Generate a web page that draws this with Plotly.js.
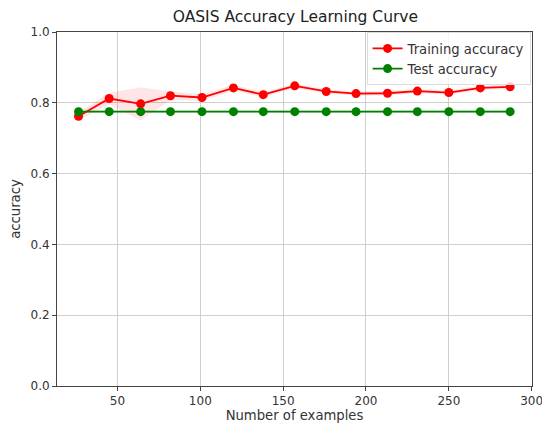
<!DOCTYPE html>
<html>
<head>
<meta charset="utf-8">
<script src="https://cdn.plot.ly/plotly-3.0.1.min.js"></script>
<style>html,body{margin:0;padding:0;background:#fff;}#chart{width:542px;height:430px;}</style>
</head>
<body>
<div id="chart"></div>
<script>
const trainSizes = [26.5, 45, 64, 82, 101, 120, 138, 157, 176, 194, 213, 231, 250, 269, 287];
const trainMean = [0.762, 0.812, 0.797, 0.820, 0.815, 0.842, 0.823, 0.848, 0.832, 0.826, 0.827, 0.833, 0.829, 0.842, 0.845];
const trainStd = [0.012, 0.016, 0.047, 0.012, 0.010, 0.008, 0.007, 0.007, 0.006, 0.006, 0.006, 0.006, 0.006, 0.006, 0.006];
const testMean = [0.775, 0.775, 0.775, 0.775, 0.775, 0.775, 0.775, 0.775, 0.775, 0.775, 0.775, 0.775, 0.775, 0.775, 0.775];
const testStd = [0.004, 0.004, 0.004, 0.004, 0.004, 0.004, 0.004, 0.004, 0.004, 0.004, 0.004, 0.004, 0.004, 0.004, 0.004];

const up = (m, s) => m.map((v, i) => v + s[i]);
const lo = (m, s) => m.map((v, i) => v - s[i]);

const traces = [
  {x: trainSizes, y: lo(trainMean, trainStd), mode: 'lines', line: {width: 0, color: 'rgba(0,0,0,0)'}, showlegend: false, hoverinfo: 'skip'},
  {x: trainSizes, y: up(trainMean, trainStd), mode: 'lines', fill: 'tonexty', fillcolor: 'rgba(255,0,0,0.1)', line: {width: 0, color: 'rgba(0,0,0,0)'}, showlegend: false, hoverinfo: 'skip'},
  {x: trainSizes, y: lo(testMean, testStd), mode: 'lines', line: {width: 0, color: 'rgba(0,0,0,0)'}, showlegend: false, hoverinfo: 'skip'},
  {x: trainSizes, y: up(testMean, testStd), mode: 'lines', fill: 'tonexty', fillcolor: 'rgba(0,128,0,0.1)', line: {width: 0, color: 'rgba(0,0,0,0)'}, showlegend: false, hoverinfo: 'skip'},
  {x: trainSizes, y: trainMean, mode: 'lines+markers', name: 'Training accuracy', line: {color: '#ff0000', width: 1.8}, marker: {color: '#ff0000', size: 9}},
  {x: trainSizes, y: testMean, mode: 'lines+markers', name: 'Test accuracy', line: {color: '#008000', width: 1.8}, marker: {color: '#008000', size: 9}}
];

const layout = {
  width: 542, height: 430,
  margin: {l: 57, r: 10, t: 32, b: 44},
  paper_bgcolor: '#fff', plot_bgcolor: '#fff',
  font: {family: 'DejaVu Sans', size: 12, color: '#333'},
  title: {text: 'OASIS Accuracy Learning Curve', font: {size: 15.5, color: '#222'}, x: 0.545, xanchor: 'center', y: 0.962, yanchor: 'middle'},
  xaxis: {
    range: [13.5, 300.2], tickvals: [50, 100, 150, 200, 250, 300],
    showgrid: true, gridcolor: '#cfcfcf', gridwidth: 1,
    showline: true, linecolor: '#444', linewidth: 1, mirror: true,
    ticks: 'outside', ticklen: 4, tickcolor: '#444', zeroline: false,
    ticklabeloverflow: 'allow',
    title: {text: 'Number of examples', font: {size: 13.2}, standoff: 3}
  },
  yaxis: {
    range: [0, 1], tickvals: [0, 0.2, 0.4, 0.6, 0.8, 1.0], ticktext: ['0.0', '0.2', '0.4', '0.6', '0.8', '1.0'],
    showgrid: true, gridcolor: '#cfcfcf', gridwidth: 1,
    showline: true, linecolor: '#444', linewidth: 1, mirror: true,
    ticks: 'outside', ticklen: 4, tickcolor: '#444', zeroline: false,
    title: {text: 'accuracy', font: {size: 13.2}, standoff: 6}
  },
  legend: {x: 0.997, y: 0.999, xanchor: 'right', yanchor: 'top', traceorder: 'normal', bgcolor: 'rgba(255,255,255,0.8)', bordercolor: '#ddd', borderwidth: 1, font: {size: 13.2, color: '#333'}},
  showlegend: true
};

Plotly.newPlot('chart', traces, layout, {displayModeBar: false, staticPlot: true});
</script>
</body>
</html>
